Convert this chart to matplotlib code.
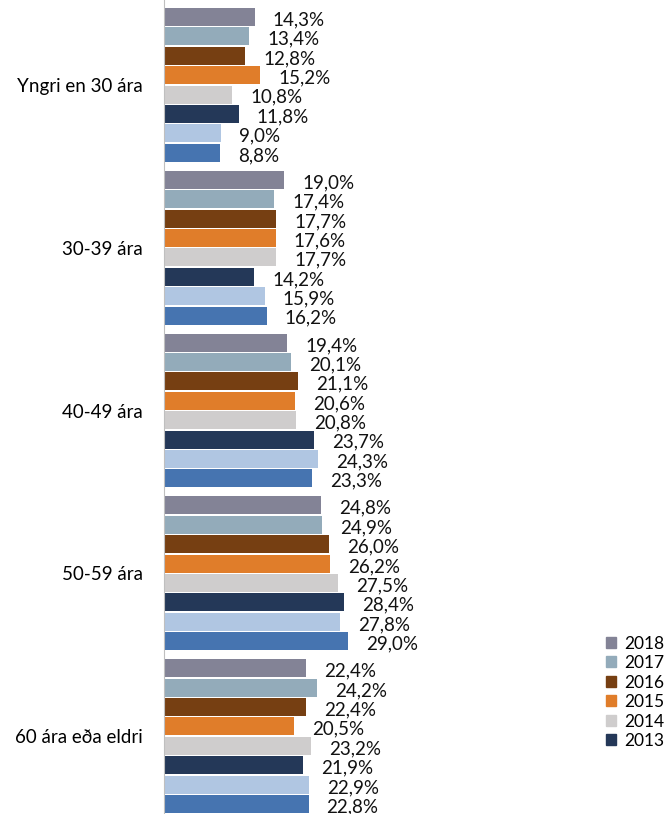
import numpy as np
import matplotlib.pyplot as plt
from matplotlib.patches import Patch

# age groups and yearly shares (%)
groups = ["Yngri en 30 ára", "30-39 ára", "40-49 ára", "50-59 ára", "60 ára eða eldri"]
years = ["2018", "2017", "2016", "2015", "2014", "2013", "2012", "2011"]
colors = ["#838396", "#93abba", "#763f12", "#e07d2a", "#cfcdcd", "#243858", "#b0c6e2", "#4674b0"]

v2018 = [14.3, 19.0, 19.4, 24.8, 22.4]
v2017 = [13.4, 17.4, 20.1, 24.9, 24.2]
v2016 = [12.8, 17.7, 21.1, 26.0, 22.4]
v2015 = [15.2, 17.6, 20.6, 26.2, 20.5]
v2014 = [10.8, 17.7, 20.8, 27.5, 23.2]
v2013 = [11.8, 14.2, 23.7, 28.4, 21.9]
v2012 = [9.0, 15.9, 24.3, 27.8, 22.9]
v2011 = [8.8, 16.2, 23.3, 29.0, 22.8]
series = [v2018, v2017, v2016, v2015, v2014, v2013, v2012, v2011]

plt.rcParams['font.family'] = ['Lato', 'DejaVu Sans']
fs = 13.5

fig = plt.figure(figsize=(6.68, 8.14), dpi=100)
ax = fig.add_axes([164 / 668, 0.0, 426 / 668, 1.0])

gp = 8.4  # group pitch in bar slots
h = 0.93
for j, (yr, vals, c) in enumerate(zip(years, series, colors)):
    y = np.arange(len(groups)) * gp + j
    bars = ax.barh(y, vals, height=h, color=c, label=yr)
    for b, v in zip(bars, vals):
        ax.annotate(f"{v:.1f}%".replace(".", ","),
                    (b.get_width(), b.get_y() + b.get_height() / 2),
                    xytext=(13, -2), textcoords="offset points",
                    ha="left", va="center", fontsize=fs, color="#111111")

centers = np.arange(len(groups)) * gp + 3.5
ax.set_yticks(centers)
ax.set_yticklabels(groups, fontsize=fs)
ax.tick_params(axis="y", length=0, pad=15)
unit = 19.38
ax.set_ylim((len(groups) - 1) * gp + 7 + h / 2 + 1 / unit, -h / 2 - 8 / unit)
ax.set_xlim(0, 426 / 6.34)
ax.set_xticks([])
for s in ["top", "right", "bottom"]:
    ax.spines[s].set_visible(False)
ax.spines["left"].set_color("#bfbfbf")

handles = [Patch(color=c) for c in colors[:6]]
fig.legend(handles, years[:6], loc="upper left", bbox_to_anchor=(590 / 668, 1 - 620 / 814),
           frameon=False, fontsize=12.5, handlelength=0.6, handleheight=0.6,
           handletextpad=0.45, labelspacing=0.2)

fig.savefig("out.png", dpi=100)
